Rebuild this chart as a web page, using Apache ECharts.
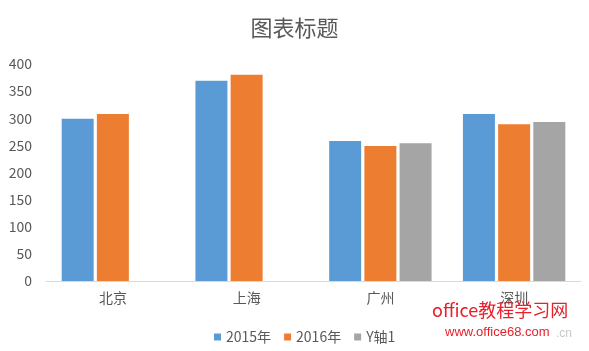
<!DOCTYPE html>
<html><head><meta charset="utf-8">
<script src="https://cdn.jsdelivr.net/npm/echarts@6/dist/echarts.min.js"></script>
<style>html,body{margin:0;padding:0;background:#fff}#c{width:589px;height:351px}</style>
</head><body><div id="c"></div>
<script>
const categories = ['北京', '上海', '广州', '深圳'];
const s2015 = [299, 369, 258, 308];
const s2016 = [308, 380, 249, 289];
const sY1 = [null, null, 254, 293];
const seriesNames = ['2015年', '2016年', 'Y轴1'];
const yTicks = {min: 0, max: 400, interval: 50};

const font = '"Noto Sans CJK SC", "Noto Sans", sans-serif';
const chart = echarts.init(document.getElementById('c'));
chart.setOption({
  animation: false,
  color: ['#5B9BD5', '#ED7D31', '#A5A5A5'],
  title: {text: '图表标题', left: 'center', top: 12,
    textStyle: {fontFamily: font, fontSize: 22, fontWeight: 'normal', color: '#595959'}},
  grid: {left: 46, right: 8, top: 64, bottom: 70},
  legend: {top: 325, left: 209, itemWidth: 7, itemHeight: 7, itemGap: 13, icon: 'rect',
    textStyle: {fontFamily: font, fontSize: 14, color: '#595959'}},
  xAxis: {type: 'category', data: categories,
    axisLine: {lineStyle: {color: '#d9d9d9', width: 1}}, axisTick: {show: false},
    axisLabel: {fontFamily: font, fontSize: 14, color: '#595959', margin: 10}},
  yAxis: {type: 'value', min: yTicks.min, max: yTicks.max, interval: yTicks.interval,
    splitLine: {show: false}, axisLine: {show: false}, axisTick: {show: false},
    axisLabel: {fontFamily: font, fontSize: 14, color: '#595959', margin: 14}},
  series: [
    {name: seriesNames[0], type: 'bar', data: s2015, barWidth: 32, barGap: '10%'},
    {name: seriesNames[1], type: 'bar', data: s2016, barWidth: 32, barGap: '10%'},
    {name: seriesNames[2], type: 'bar', data: sY1, barWidth: 32, barGap: '10%'}
  ],
  graphic: [
    {type: 'text', left: 432, top: 301, style: {text: 'office教程学习网', fontFamily: font, fontSize: 18, fill: '#e8202a'}},
    {type: 'text', left: 445, top: 326, style: {text: 'www.office68.com', fontFamily: '"Liberation Sans", sans-serif', fontSize: 13, fill: '#e8202a'}},
    {type: 'text', left: 556, top: 328, style: {text: '.cn', fontFamily: '"Liberation Sans", sans-serif', fontSize: 12, fill: '#c8c8c8'}}
  ]
});
</script></body></html>
